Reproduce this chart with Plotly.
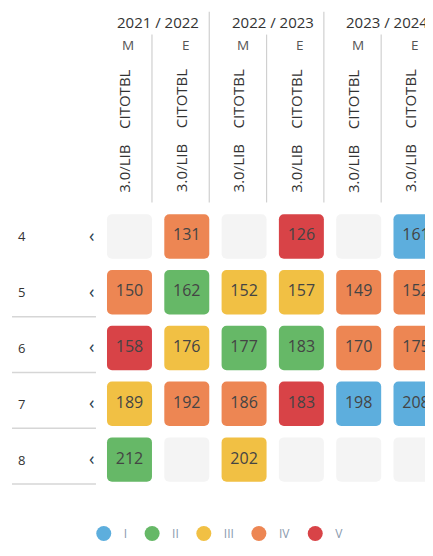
import plotly.graph_objects as go

rows = ["4", "5", "6", "7", "8"]
years = ["2021 / 2022", "2022 / 2023", "2023 / 2024"]
terms = ["M", "E", "M", "E", "M", "E"]
test_label = "3.0/LIB\u00a0\u00a0\u00a0\u00a0CITOTBL"

col_2122_M = [None, 150, 158, 189, 212]
col_2122_E = [131, 162, 176, 192, None]
col_2223_M = [None, 152, 177, 186, 202]
col_2223_E = [126, 157, 183, 183, None]
col_2324_M = [None, 149, 170, 198, None]
col_2324_E = [161, 152, 175, 208, None]

lvl_2122_M = [None, "IV", "V", "III", "II"]
lvl_2122_E = ["IV", "II", "III", "IV", None]
lvl_2223_M = [None, "III", "II", "IV", "III"]
lvl_2223_E = ["V", "III", "II", "V", None]
lvl_2324_M = [None, "IV", "IV", "I", None]
lvl_2324_E = ["I", "IV", "IV", "I", None]

levels = ["I", "II", "III", "IV", "V"]
level_colors = ["#5DAEDD", "#66B867", "#F1C044", "#ED8653", "#D84347"]
empty_color = "#F4F4F4"

values = [col_2122_M, col_2122_E, col_2223_M, col_2223_E, col_2324_M, col_2324_E]
lvls = [lvl_2122_M, lvl_2122_E, lvl_2223_M, lvl_2223_E, lvl_2324_M, lvl_2324_E]

CW = 0.785  # cell width in column units
CH = 0.796  # cell height in row units

fig = go.Figure()

# empty cells
ex, ey = [], []
for ci, col in enumerate(values):
    for ri, v in enumerate(col):
        if v is None:
            ex.append(ci); ey.append(ri)
fig.add_trace(go.Bar(x=ex, y=[CH] * len(ex), base=[r - CH / 2 for r in ey], width=CW,
                     marker=dict(color=empty_color, cornerradius=5, line=dict(width=0)),
                     showlegend=False, hoverinfo="skip"))

for lv, colr in zip(levels, level_colors):
    bx, by, bt = [], [], []
    for ci, col in enumerate(values):
        for ri, v in enumerate(col):
            if v is not None and lvls[ci][ri] == lv:
                bx.append(ci); by.append(ri); bt.append(str(v))
    fig.add_trace(go.Bar(x=bx, y=[CH] * len(bx), base=[r - CH / 2 for r in by], width=CW,
                         marker=dict(color=colr, cornerradius=5, line=dict(width=0)),
                         showlegend=False, hovertext=bt, hoverinfo="text"))
    fig.add_trace(go.Scatter(x=bx, y=by, mode="text", text=bt,
                             textfont=dict(size=16, color="#444", family="Open Sans"),
                             showlegend=False, hoverinfo="skip"))
    fig.add_trace(go.Scatter(x=[None], y=[None], mode="markers", name=lv,
                             marker=dict(symbol="circle", size=15, color=colr)))

ann = []
shapes = []
# year headers
for yi, yr in enumerate(years):
    ann.append(dict(x=2 * yi + 0.5, y=-3.85, xref="x", yref="y", text=yr, showarrow=False,
                    font=dict(size=15, color="#333")))
for ci, t in enumerate(terms):
    ann.append(dict(x=ci - 0.02, y=-3.43, xref="x", yref="y", text=t, showarrow=False,
                    font=dict(size=13.5, color="#555")))
    ann.append(dict(x=ci - 0.1, y=-1.89, xref="x", yref="y", text=test_label, showarrow=False,
                    textangle=-90, font=dict(size=15, color="#333")))
    if ci < len(terms) - 1:
        top = -4.03 if ci % 2 == 1 else -3.62
        shapes.append(dict(type="line", xref="x", yref="y", x0=ci + CW / 2, x1=ci + CW / 2,
                           y0=top, y1=-0.61, line=dict(color="#D0D0D0", width=1.2)))
# row labels
for ri, r in enumerate(rows):
    ann.append(dict(x=-1.98, y=ri, xref="x", yref="y", text=r, showarrow=False, xanchor="left",
                    font=dict(size=13, color="#333")))
    ann.append(dict(x=-0.655, y=ri - 0.03, xref="x", yref="y", text="‹", showarrow=False,
                    font=dict(size=18, color="#2C3E50")))
    if ri > 0:
        shapes.append(dict(type="line", xref="x", yref="y", x0=-2.05, x1=-0.585,
                           y0=ri + 0.44, y1=ri + 0.44, line=dict(color="#D6D6D6", width=1.5)))

# page has an 8px body margin: figure is 425x540 placed at (8, 8) so nothing scrolls
fig.update_layout(
    width=425, height=540,
    margin=dict(l=0, r=0, t=0, b=0),
    paper_bgcolor="white", plot_bgcolor="white",
    font=dict(family="Open Sans", color="#333"),
    barmode="overlay",
    xaxis=dict(range=[-2.12, 5.297], visible=False, fixedrange=True),
    yaxis=dict(range=[5.460, -4.097], visible=False, fixedrange=True),
    annotations=ann, shapes=shapes,
    legend=dict(orientation="h", x=0.49, xanchor="center", y=0.0135, yanchor="middle",
                font=dict(size=12, color="#8A9AAE"), itemsizing="trace",
                bgcolor="rgba(0,0,0,0)"),
    showlegend=True,
)

fig.write_html("out.html")
